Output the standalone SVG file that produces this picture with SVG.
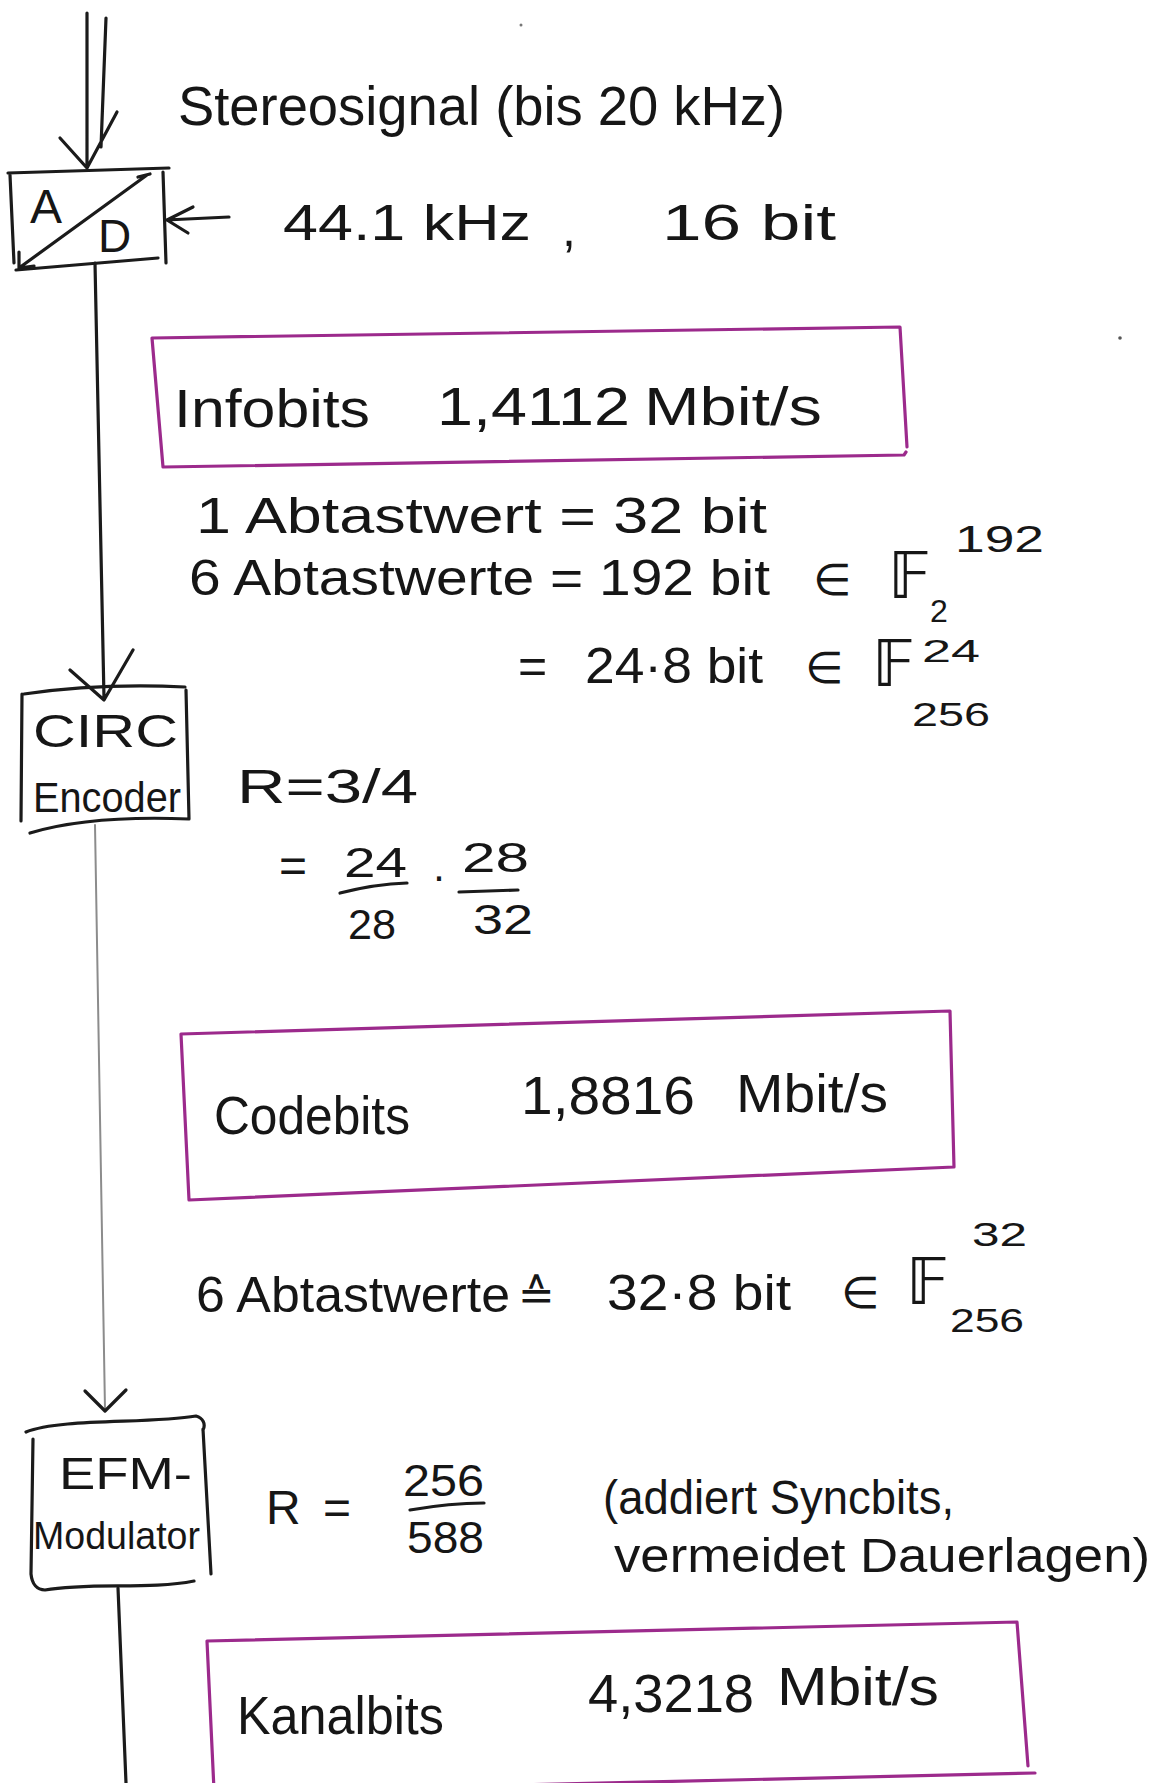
<svg xmlns="http://www.w3.org/2000/svg" width="1154" height="1783" viewBox="0 0 1154 1783">
<style>
.ink{fill:none;stroke:#1b1b1b;stroke-width:3.2;stroke-linecap:round;stroke-linejoin:round}
.thin{fill:none;stroke:#8c8c8c;stroke-width:2;stroke-linecap:round}
.rate{fill:none;stroke:#9c2a8c;stroke-width:3.2;stroke-linecap:round;stroke-linejoin:round}
.t{font-family:"Liberation Sans",Arial,sans-serif;fill:#161616}
.m{font-family:"DejaVu Sans","Liberation Sans",sans-serif;fill:#161616}
</style>
<rect width="1154" height="1783" fill="#ffffff"/>
<circle cx="521" cy="25" r="1.5" fill="#777"/>
<circle cx="1120" cy="338" r="1.8" fill="#555"/>

<!-- signal flow -->
<g id="connectors">
  <path class="ink" d="M87,13 L87,167 M106,18 L101,147 M60,138 L87,168 L117,112"/>
  <path class="ink" d="M229,217 L166,220 M193,207 L167,220 L188,233"/>
  <path class="ink" d="M95,263 L104,698 M70,670 L104,700 L133,650"/>
  <path class="thin" d="M95,825 L105,1410"/>
  <path class="ink" d="M85,1391 L105,1411 L126,1390"/>
  <path class="ink" d="M118,1588 L126,1783"/>
</g>

<g id="input-label">
  <text class="t" x="178" y="125" font-size="56" textLength="607" lengthAdjust="spacingAndGlyphs">Stereosignal (bis 20 kHz)</text>
</g>

<g id="adc">
  <path class="ink" d="M8,173 L169,168 M10,175 L14,263 M163,172 L166,263 M16,270 L158,258"/>
  <path class="ink" d="M147,175 L19,268 M19,252 L19,268 L34,266 M138,177 L150,174"/>
  <text class="t" x="30" y="223" font-size="48">A</text>
  <text class="t" x="98" y="252" font-size="46">D</text>
</g>

<g id="sampling-label">
  <text class="t" x="283" y="240" font-size="50" textLength="248" lengthAdjust="spacingAndGlyphs">44.1 kHz</text>
  <text class="t" x="562" y="246" font-size="50">,</text>
  <text class="t" x="662" y="240" font-size="50" textLength="174" lengthAdjust="spacingAndGlyphs">16 bit</text>
</g>

<g id="infobits">
  <path class="rate" d="M152,338 L900,327 L907,447 M906,452 L904,455 L163,467 L152,338"/>
  <text class="t" x="174" y="427" font-size="54" textLength="196" lengthAdjust="spacingAndGlyphs">Infobits</text>
  <text class="t" x="437" y="425" font-size="54" textLength="193" lengthAdjust="spacingAndGlyphs">1,4112</text>
  <text class="t" x="644" y="425" font-size="54" textLength="178" lengthAdjust="spacingAndGlyphs">Mbit/s</text>
</g>

<g id="frame-info">
  <text class="t" x="196" y="533" font-size="50" textLength="571" lengthAdjust="spacingAndGlyphs">1 Abtastwert = 32 bit</text>
  <text class="t" x="189" y="595" font-size="50" textLength="581" lengthAdjust="spacingAndGlyphs">6 Abtastwerte = 192 bit</text>
  <text class="m" x="813" y="595" font-size="44">∈</text>
  <text class="m" x="888" y="598" font-size="64">𝔽</text>
  <text class="t" x="930" y="622" font-size="32">2</text>
  <text class="t" x="955" y="552" font-size="36" textLength="89" lengthAdjust="spacingAndGlyphs">192</text>
  <text class="t" x="518" y="683" font-size="50">=</text>
  <text class="t" x="585" y="683" font-size="50" textLength="178" lengthAdjust="spacingAndGlyphs">24·8 bit</text>
  <text class="m" x="805" y="683" font-size="44">∈</text>
  <text class="m" x="872" y="686" font-size="64">𝔽</text>
  <text class="t" x="922" y="662" font-size="32" textLength="58" lengthAdjust="spacingAndGlyphs">24</text>
  <text class="t" x="912" y="726" font-size="34" textLength="78" lengthAdjust="spacingAndGlyphs">256</text>
</g>

<g id="circ">
  <path class="ink" d="M24,694 Q100,683 185,687 M22,694 L21,821 M186,690 L189,819 M30,833 Q90,815 189,819"/>
  <text class="t" x="33" y="747" font-size="46" textLength="145" lengthAdjust="spacingAndGlyphs">CIRC</text>
  <text class="t" x="33" y="812" font-size="42" textLength="148" lengthAdjust="spacingAndGlyphs">Encoder</text>
</g>

<g id="circ-rate">
  <text class="t" x="237" y="803" font-size="48" textLength="181" lengthAdjust="spacingAndGlyphs">R=3/4</text>
  <text class="t" x="279" y="882" font-size="48">=</text>
  <text class="t" x="344" y="877" font-size="42" textLength="63" lengthAdjust="spacingAndGlyphs">24</text>
  <path class="ink" d="M340,893 Q375,884 407,883"/>
  <text class="t" x="348" y="939" font-size="42" textLength="48" lengthAdjust="spacingAndGlyphs">28</text>
  <text class="t" x="432" y="890" font-size="42">·</text>
  <text class="t" x="462" y="872" font-size="42" textLength="67" lengthAdjust="spacingAndGlyphs">28</text>
  <path class="ink" d="M459,892 L518,890"/>
  <text class="t" x="473" y="934" font-size="42" textLength="60" lengthAdjust="spacingAndGlyphs">32</text>
</g>

<g id="codebits">
  <path class="rate" d="M181,1034 L950,1011 L954,1167 L189,1200 Z"/>
  <text class="t" x="214" y="1134" font-size="54" textLength="196" lengthAdjust="spacingAndGlyphs">Codebits</text>
  <text class="t" x="521" y="1114" font-size="54" textLength="174" lengthAdjust="spacingAndGlyphs">1,8816</text>
  <text class="t" x="736" y="1112" font-size="54" textLength="152" lengthAdjust="spacingAndGlyphs">Mbit/s</text>
</g>

<g id="code-frame">
  <text class="t" x="196" y="1312" font-size="50" textLength="314" lengthAdjust="spacingAndGlyphs">6 Abtastwerte</text>
  <text class="m" x="518" y="1310" font-size="44">≙</text>
  <text class="t" x="607" y="1310" font-size="50" textLength="184" lengthAdjust="spacingAndGlyphs">32·8 bit</text>
  <text class="m" x="841" y="1308" font-size="44">∈</text>
  <text class="m" x="906" y="1304" font-size="64">𝔽</text>
  <text class="t" x="972" y="1246" font-size="34" textLength="55" lengthAdjust="spacingAndGlyphs">32</text>
  <text class="t" x="950" y="1332" font-size="34" textLength="74" lengthAdjust="spacingAndGlyphs">256</text>
</g>

<g id="efm">
  <path class="ink" d="M26,1432 C60,1418 150,1424 196,1416 C203,1418 206,1424 203,1430 M33,1439 L31,1574 M203,1429 L211,1574 M31,1574 C32,1584 37,1590 45,1590 C90,1582 150,1590 194,1581"/>
  <text class="t" x="59" y="1489" font-size="44" textLength="133" lengthAdjust="spacingAndGlyphs">EFM-</text>
  <text class="t" x="33" y="1549" font-size="38" textLength="167" lengthAdjust="spacingAndGlyphs">Modulator</text>
</g>

<g id="efm-rate">
  <text class="t" x="266" y="1524" font-size="48">R</text>
  <text class="t" x="323" y="1524" font-size="48">=</text>
  <text class="t" x="403" y="1496" font-size="44" textLength="81" lengthAdjust="spacingAndGlyphs">256</text>
  <path class="ink" d="M410,1510 Q450,1503 484,1503"/>
  <text class="t" x="407" y="1553" font-size="44" textLength="77" lengthAdjust="spacingAndGlyphs">588</text>
  <text class="t" x="603" y="1514" font-size="48" textLength="351" lengthAdjust="spacingAndGlyphs">(addiert Syncbits,</text>
  <text class="t" x="614" y="1572" font-size="48" textLength="536" lengthAdjust="spacingAndGlyphs">vermeidet Dauerlagen)</text>
</g>

<g id="kanalbits">
  <path class="rate" d="M214,1790 L207,1641 L1017,1622 L1028,1766 M1035,1773 L214,1792"/>
  <text class="t" x="237" y="1734" font-size="54" textLength="207" lengthAdjust="spacingAndGlyphs">Kanalbits</text>
  <text class="t" x="588" y="1712" font-size="54" textLength="166" lengthAdjust="spacingAndGlyphs">4,3218</text>
  <text class="t" x="777" y="1705" font-size="54" textLength="162" lengthAdjust="spacingAndGlyphs">Mbit/s</text>
</g>
</svg>
